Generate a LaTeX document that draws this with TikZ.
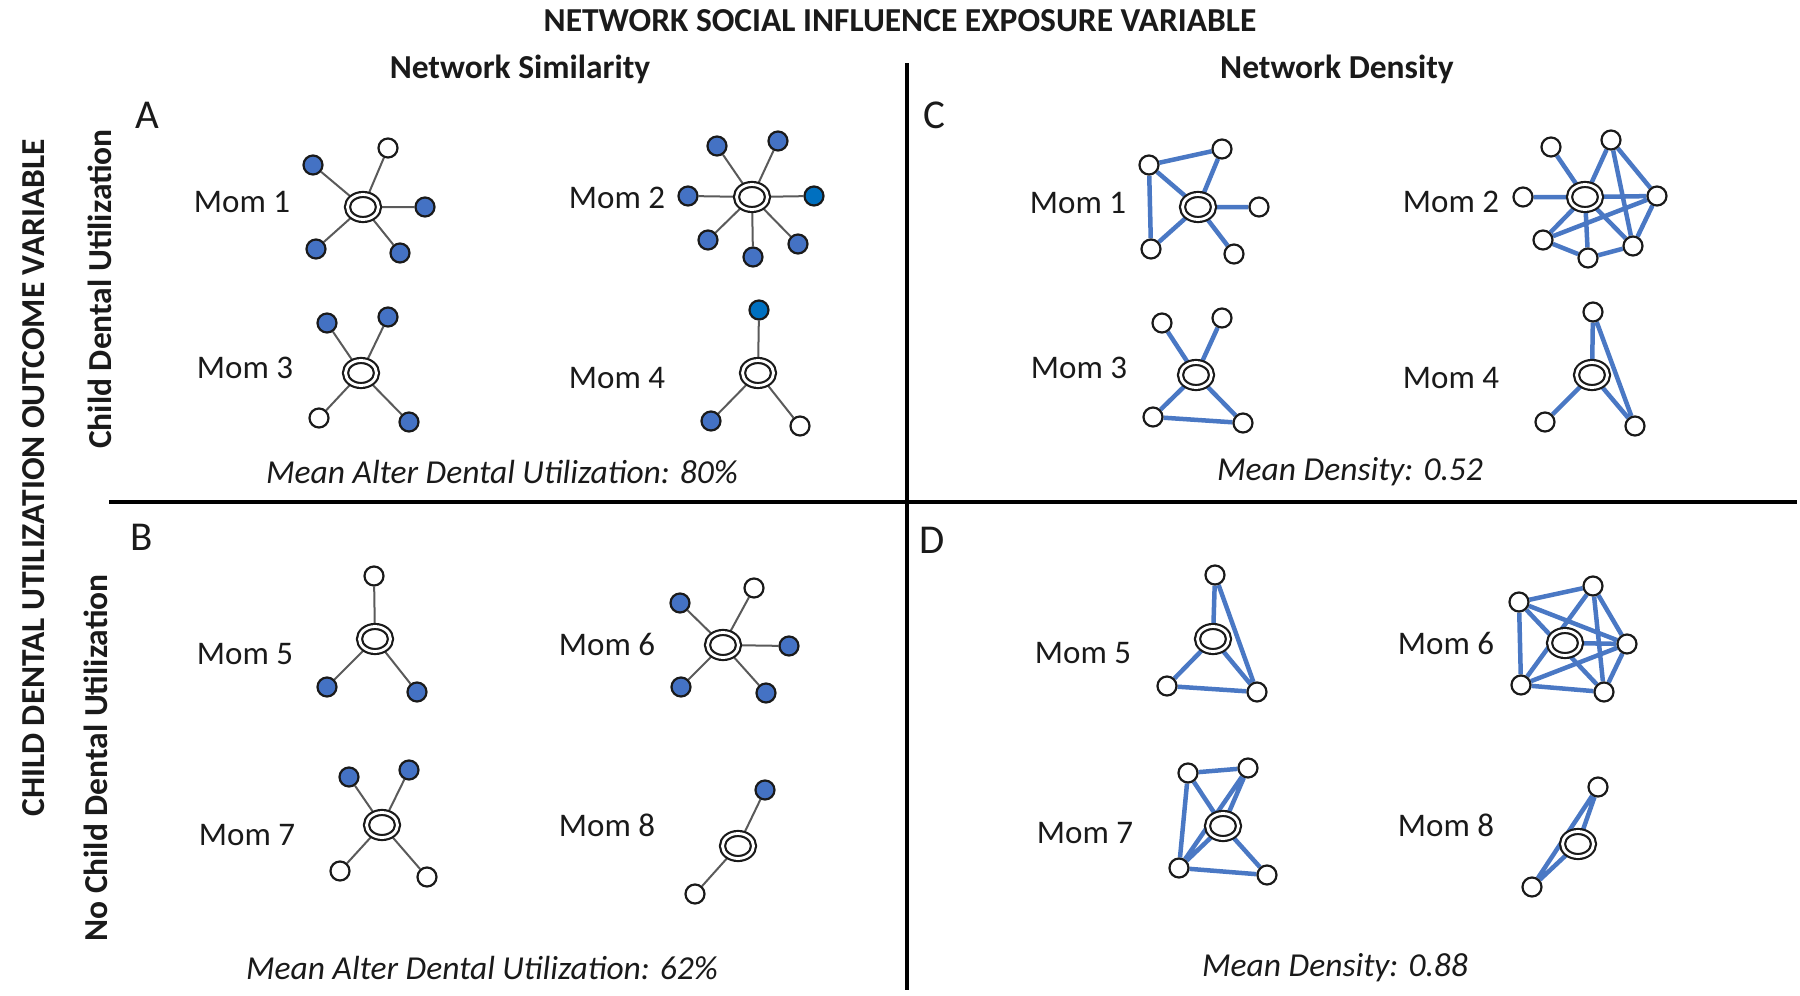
\documentclass[tikz,border=0pt]{standalone}
\usepackage{fontspec}
\setmainfont{Carlito}
\usetikzlibrary{positioning, shapes.geometric, backgrounds}
\definecolor{Ink}{HTML}{1A1A1A}
\definecolor{Alter}{HTML}{4472C4}
\definecolor{AlterDark}{HTML}{0070C0}
\definecolor{Tie}{HTML}{4A78C4}
\definecolor{Spoke}{HTML}{5A5A5A}
\tikzset{
    ego/.style={ellipse, draw=Ink, line width=2.2pt, double=white, double distance=2.8pt, fill=white, minimum width=31pt, minimum height=25pt, inner sep=0pt},
    alter/.style={circle, draw=Ink, line width=2.2pt, minimum size=19pt, inner sep=0pt},
    altblue/.style={alter, fill=Alter},
    altdark/.style={alter, fill=AlterDark},
    altwhite/.style={alter, fill=white},
    spoke/.style={line width=2pt, color=Spoke},
    tie/.style={line width=4.5pt, color=Tie},
    momlabel/.style={font=\fontsize{33}{38}\selectfont, text=Ink},
    meanlabel/.style={font=\fontsize{33.5}{38}\selectfont\itshape, text=Ink},
    letter/.style={font=\fontsize{41}{46}\selectfont, text=Ink},
    heading/.style={font=\fontsize{33.5}{38}\selectfont\bfseries, text=Ink},
    divider/.style={line width=3.5pt, color=black},
}

\begin{document}
\begin{tikzpicture}[x=1pt, y=-1pt]
    \useasboundingbox (0,0) rectangle (1800,996);

    % Titoli
    \node[heading] (title) at (900,21) {NETWORK SOCIAL INFLUENCE EXPOSURE VARIABLE};
    \node[heading] (simhead) at (520,69) {Network Similarity};
    \node[heading] (denhead) at (1337,69) {Network Density};
    \node[heading, rotate=90] (outcome) at (34,478) {CHILD DENTAL UTILIZATION OUTCOME VARIABLE};
    \node[heading, rotate=90] (rowtop) at (100,289) {Child Dental Utilization};
    \node[heading, rotate=90] (rowbot) at (96,758) {No Child Dental Utilization};

    % Divisori
    \coordinate (vtop) at (907,63);
    \coordinate (vbot) at (907,990);
    \coordinate (hleft) at (109,502);
    \coordinate (hright) at (1797,502);
    \draw[divider] (vtop) -- (vbot);
    \draw[divider] (hleft) -- (hright);

    % Lettere
    \node[letter] (letA) at (147,115) {A};
    \node[letter] (letB) at (142,537) {B};
    \node[letter] (letC) at (934,115) {C};
    \node[letter] (letD) at (932,540) {D};

    % Pannello A
    \node[momlabel] (A1lab) at (242,202) {Mom 1};
    \node[ego] (A1) at (363,207) {};
    \node[altwhite] (A1a) at (388,148) {};
    \node[altblue] (A1b) at (313,165) {};
    \node[altblue] (A1c) at (425,207) {};
    \node[altblue] (A1d) at (316,249) {};
    \node[altblue] (A1e) at (400,253) {};

    \node[momlabel] (A2lab) at (617,198) {Mom 2};
    \node[ego] (A2) at (752,197) {};
    \node[altblue] (A2a) at (717,146) {};
    \node[altblue] (A2b) at (778,141) {};
    \node[altblue] (A2c) at (688,196) {};
    \node[altdark] (A2d) at (814,196) {};
    \node[altblue] (A2e) at (708,240) {};
    \node[altblue] (A2f) at (753,257) {};
    \node[altblue] (A2g) at (798,244) {};

    \node[momlabel] (A3lab) at (245,368) {Mom 3};
    \node[ego] (A3) at (361,373) {};
    \node[altblue] (A3a) at (327,323) {};
    \node[altblue] (A3b) at (388,317) {};
    \node[altwhite] (A3c) at (319,418) {};
    \node[altblue] (A3d) at (409,422) {};

    \node[momlabel] (A4lab) at (617,378) {Mom 4};
    \node[ego] (A4) at (758,373) {};
    \node[altdark] (A4a) at (759,310) {};
    \node[altblue] (A4b) at (711,421) {};
    \node[altwhite] (A4c) at (800,426) {};

    \node[meanlabel] (Amean) at (502,472) {Mean Alter Dental Utilization: 80\%};

    % Pannello B
    \node[momlabel] (B5lab) at (245,654) {Mom 5};
    \node[ego] (B5) at (375,639) {};
    \node[altwhite] (B5a) at (374,576) {};
    \node[altblue] (B5b) at (327,687) {};
    \node[altblue] (B5c) at (417,692) {};

    \node[momlabel] (B6lab) at (607,644) {Mom 6};
    \node[ego] (B6) at (723,645) {};
    \node[altblue] (B6a) at (680,603) {};
    \node[altwhite] (B6b) at (754,588) {};
    \node[altblue] (B6c) at (789,646) {};
    \node[altblue] (B6d) at (681,687) {};
    \node[altblue] (B6e) at (766,693) {};

    \node[momlabel] (B7lab) at (247,835) {Mom 7};
    \node[ego] (B7) at (382,825) {};
    \node[altblue] (B7a) at (349,777) {};
    \node[altblue] (B7b) at (409,770) {};
    \node[altwhite] (B7c) at (340,871) {};
    \node[altwhite] (B7d) at (427,877) {};

    \node[momlabel] (B8lab) at (607,825) {Mom 8};
    \node[ego] (B8) at (738,846) {};
    \node[altblue] (B8a) at (765,790) {};
    \node[altwhite] (B8b) at (695,894) {};

    \node[meanlabel] (Bmean) at (482,968) {Mean Alter Dental Utilization: 62\%};

    % Pannello C
    \node[momlabel] (C1lab) at (1078,203) {Mom 1};
    \node[ego] (C1) at (1198,207) {};
    \node[altwhite] (C1a) at (1149,165) {};
    \node[altwhite] (C1b) at (1222,149) {};
    \node[altwhite] (C1c) at (1259,207) {};
    \node[altwhite] (C1d) at (1151,249) {};
    \node[altwhite] (C1e) at (1234,254) {};

    \node[momlabel] (C2lab) at (1451,202) {Mom 2};
    \node[ego] (C2) at (1585,197) {};
    \node[altwhite] (C2a) at (1551,147) {};
    \node[altwhite] (C2b) at (1611,140) {};
    \node[altwhite] (C2c) at (1523,197) {};
    \node[altwhite] (C2d) at (1657,196) {};
    \node[altwhite] (C2e) at (1543,240) {};
    \node[altwhite] (C2f) at (1588,258) {};
    \node[altwhite] (C2g) at (1633,246) {};

    \node[momlabel] (C3lab) at (1079,368) {Mom 3};
    \node[ego] (C3) at (1196,375) {};
    \node[altwhite] (C3a) at (1162,323) {};
    \node[altwhite] (C3b) at (1222,318) {};
    \node[altwhite] (C3c) at (1153,417) {};
    \node[altwhite] (C3d) at (1243,423) {};

    \node[momlabel] (C4lab) at (1451,378) {Mom 4};
    \node[ego] (C4) at (1592,375) {};
    \node[altwhite] (C4a) at (1593,312) {};
    \node[altwhite] (C4b) at (1545,422) {};
    \node[altwhite] (C4c) at (1635,426) {};

    \node[meanlabel] (Cmean) at (1350,472) {Mean Density: 0.52};

    % Pannello D
    \node[momlabel] (D5lab) at (1083,653) {Mom 5};
    \node[ego] (D5) at (1213,639) {};
    \node[altwhite] (D5a) at (1215,575) {};
    \node[altwhite] (D5b) at (1167,686) {};
    \node[altwhite] (D5c) at (1257,692) {};

    \node[momlabel] (D6lab) at (1446,643) {Mom 6};
    \node[ego] (D6) at (1565,643) {};
    \node[altwhite] (D6a) at (1519,602) {};
    \node[altwhite] (D6b) at (1593,586) {};
    \node[altwhite] (D6c) at (1627,644) {};
    \node[altwhite] (D6d) at (1521,685) {};
    \node[altwhite] (D6e) at (1604,692) {};

    \node[momlabel] (D7lab) at (1085,833) {Mom 7};
    \node[ego] (D7) at (1223,826) {};
    \node[altwhite] (D7a) at (1188,773) {};
    \node[altwhite] (D7b) at (1248,768) {};
    \node[altwhite] (D7c) at (1179,868) {};
    \node[altwhite] (D7d) at (1267,875) {};

    \node[momlabel] (D8lab) at (1446,825) {Mom 8};
    \node[ego] (D8) at (1578,844) {};
    \node[altwhite] (D8a) at (1598,787) {};
    \node[altwhite] (D8b) at (1532,887) {};

    \node[meanlabel] (Dmean) at (1335,968) {Mean Density: 0.88};

    % Legami
    \begin{scope}[on background layer]
        \draw[spoke] (A1) -- (A1a) (A1) -- (A1b) (A1) -- (A1c) (A1) -- (A1d) (A1) -- (A1e);
        \draw[spoke] (A2) -- (A2a) (A2) -- (A2b) (A2) -- (A2c) (A2) -- (A2d) (A2) -- (A2e) (A2) -- (A2f) (A2) -- (A2g);
        \draw[spoke] (A3) -- (A3a) (A3) -- (A3b) (A3) -- (A3c) (A3) -- (A3d);
        \draw[spoke] (A4) -- (A4a) (A4) -- (A4b) (A4) -- (A4c);
        \draw[spoke] (B5) -- (B5a) (B5) -- (B5b) (B5) -- (B5c);
        \draw[spoke] (B6) -- (B6a) (B6) -- (B6b) (B6) -- (B6c) (B6) -- (B6d) (B6) -- (B6e);
        \draw[spoke] (B7) -- (B7a) (B7) -- (B7b) (B7) -- (B7c) (B7) -- (B7d);
        \draw[spoke] (B8) -- (B8a) (B8) -- (B8b);

        \draw[tie] (C1a) -- (C1b) (C1a) -- (C1d) (C1) -- (C1a) (C1) -- (C1b) (C1) -- (C1c) (C1) -- (C1d) (C1) -- (C1e);
        \draw[tie] (C2) -- (C2a) (C2) -- (C2b) (C2) -- (C2c) (C2) -- (C2d) (C2) -- (C2e) (C2) -- (C2f) (C2) -- (C2g)
            (C2b) -- (C2d) (C2b) -- (C2g) (C2e) -- (C2d) (C2e) -- (C2f) (C2f) -- (C2g) (C2d) -- (C2g);
        \draw[tie] (C3) -- (C3a) (C3) -- (C3b) (C3) -- (C3c) (C3) -- (C3d) (C3c) -- (C3d);
        \draw[tie] (C4) -- (C4a) (C4) -- (C4b) (C4) -- (C4c) (C4a) -- (C4c);
        \draw[tie] (D5) -- (D5a) (D5) -- (D5b) (D5) -- (D5c) (D5a) -- (D5c) (D5b) -- (D5c);
        \draw[tie] (D6a) -- (D6b) (D6b) -- (D6c) (D6c) -- (D6e) (D6e) -- (D6d) (D6d) -- (D6a)
            (D6a) -- (D6c) (D6a) -- (D6e) (D6b) -- (D6e) (D6b) -- (D6d) (D6d) -- (D6c)
            (D6) -- (D6c);
        \draw[tie] (D7a) -- (D7b) (D7a) -- (D7c) (D7b) -- (D7c) (D7c) -- (D7d)
            (D7) -- (D7a) (D7) -- (D7b) (D7) -- (D7c) (D7) -- (D7d);
        \draw[tie] (D8) -- (D8a) (D8) -- (D8b) (D8a) -- (D8b);
    \end{scope}
\end{tikzpicture}
\end{document}
